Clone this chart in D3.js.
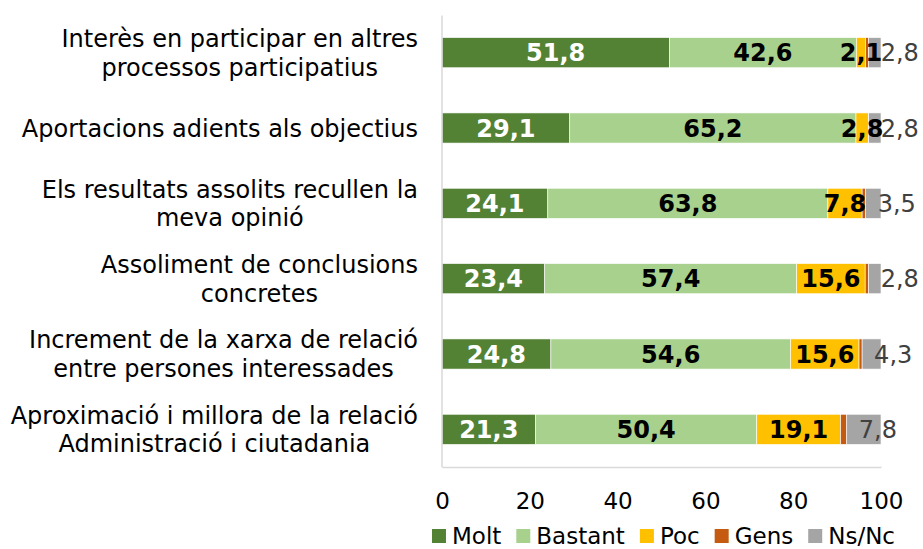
<!DOCTYPE html>
<html>
<head>
<meta charset="utf-8">
<script src="https://cdn.jsdelivr.net/npm/d3@7"></script>
<style>
  body { margin: 0; background: #fff; }
  svg { display: block; font-family: "DejaVu Sans", Verdana, sans-serif; }
</style>
</head>
<body>
<svg id="chart" width="923" height="549"></svg>
<script>
// Categories, top to bottom (each line of the wrapped label)
const categories = [
  ['Interès en participar en altres', 'processos participatius'],
  ['Aportacions adients als objectius'],
  ['Els resultats assolits recullen la', 'meva opinió'],
  ['Assoliment de conclusions', 'concretes'],
  ['Increment de la xarxa de relació', 'entre persones interessades'],
  ['Aproximació i millora de la relació', 'Administració i ciutadania']
];

const seriesNames = ['Molt', 'Bastant', 'Poc', 'Gens', 'Ns/Nc'];

// Percentages per series (Gens is not labelled, estimated from the remainder)
const molt    = [51.8, 29.1, 24.1, 23.4, 24.8, 21.3];
const bastant = [42.6, 65.2, 63.8, 57.4, 54.6, 50.4];
const poc     = [2.1, 2.8, 7.8, 15.6, 15.6, 19.1];
const gens    = [0.7, 0.1, 0.8, 0.8, 0.7, 1.4];
const nsnc    = [2.8, 2.8, 3.5, 2.8, 4.3, 7.8];

const xTicks = [0, 20, 40, 60, 80, 100];

const colors = ['#548235', '#a9d18e', '#ffc000', '#c55a11', '#a5a5a5'];

// Build rows for the stack layout
const keys = categories.map(c => c.join(' '));
const rows = keys.map((k, i) => ({
  key: k,
  Molt: molt[i], Bastant: bastant[i], Poc: poc[i], Gens: gens[i], 'Ns/Nc': nsnc[i]
}));

const svg = d3.select('#chart');
const plot = { left: 442, right: 881, top: 15, bottom: 467 };

const x = d3.scaleLinear().domain([0, 100]).range([plot.left, plot.right]);
const y = d3.scaleBand().domain(keys).range([plot.top, plot.bottom])
  .paddingInner(0.6).paddingOuter(0.3);

const stacked = d3.stack().keys(seriesNames)(rows);

// Bars
const layers = svg.append('g').selectAll('g')
  .data(stacked)
  .enter().append('g')
  .attr('fill', (d, i) => colors[i]);

layers.selectAll('rect')
  .data(d => d)
  .enter().append('rect')
  .attr('x', d => x(d[0]))
  .attr('y', d => y(d.data.key))
  .attr('width', d => x(d[1]) - x(d[0]))
  .attr('height', y.bandwidth())
  .attr('stroke', '#fff')
  .attr('stroke-width', 0.6);

// Value labels
const labelStyle = {
  Molt: { fill: '#fff', weight: 'bold' },
  Bastant: { fill: '#000', weight: 'bold' },
  Poc: { fill: '#000', weight: 'bold' },
  'Ns/Nc': { fill: '#404040', weight: 'normal' }
};

stacked.forEach(layer => {
  const st = labelStyle[layer.key];
  if (!st) return;
  svg.append('g').selectAll('text')
    .data(layer)
    .enter().append('text')
    .attr('x', d => layer.key === 'Ns/Nc' ? x(d[0]) + 12 : (x(d[0]) + x(d[1])) / 2)
    .attr('y', d => y(d.data.key) + y.bandwidth() / 2)
    .attr('dy', '0.36em')
    .attr('text-anchor', layer.key === 'Ns/Nc' ? 'start' : 'middle')
    .attr('font-size', 24)
    .attr('font-weight', st.weight)
    .attr('fill', st.fill)
    .text(d => d3.format('.1f')(d[1] - d[0]).replace('.', ','));
});

// Left axis line (no ticks)
svg.append('g')
  .attr('transform', `translate(${plot.left - 0.5},0)`)
  .call(d3.axisLeft(y).tickSize(0).tickFormat(''))
  .call(g => g.select('.domain').attr('stroke', '#d9d9d9').attr('stroke-width', 1.5));

// Bottom axis
svg.append('g')
  .attr('transform', `translate(0,${plot.bottom})`)
  .call(d3.axisBottom(x).tickValues(xTicks).tickSize(0).tickPadding(26))
  .call(g => g.select('.domain').attr('stroke', '#d9d9d9').attr('stroke-width', 1.5))
  .call(g => g.selectAll('text')
    .attr('font-size', 23)
    .attr('font-family', '"DejaVu Sans", Verdana, sans-serif')
    .attr('fill', '#000'));

// Category labels: block right-aligned, lines centred on each other
const labelRight = 418;
const lineH = 28.5;
categories.forEach((lines, i) => {
  const g = svg.append('g');
  const cy = y(keys[i]) + y.bandwidth() / 2;
  const texts = lines.map((ln, j) => g.append('text')
    .attr('font-size', 24)
    .attr('fill', '#000')
    .attr('text-anchor', 'middle')
    .attr('y', cy + (j - (lines.length - 1) / 2) * lineH)
    .attr('dy', '0.36em')
    .text(ln));
  const maxW = d3.max(texts, t => t.node().getComputedTextLength());
  texts.forEach(t => t.attr('x', labelRight - maxW / 2));
});

// Legend
const legend = svg.append('g');
let lx = 0;
seriesNames.forEach((name, i) => {
  const item = legend.append('g').attr('transform', `translate(${lx},0)`);
  item.append('rect').attr('x', 0).attr('y', -7).attr('width', 14).attr('height', 14)
    .attr('fill', colors[i]);
  const t = item.append('text').attr('x', 20).attr('y', 0).attr('dy', '0.36em')
    .attr('font-size', 23).attr('fill', '#000').text(name);
  lx += 20 + t.node().getComputedTextLength() + 15;
});
const legendW = lx - 15;
legend.attr('transform', `translate(${(plot.left + plot.right) / 2 + 2 - legendW / 2},536)`);
</script>
</body>
</html>
